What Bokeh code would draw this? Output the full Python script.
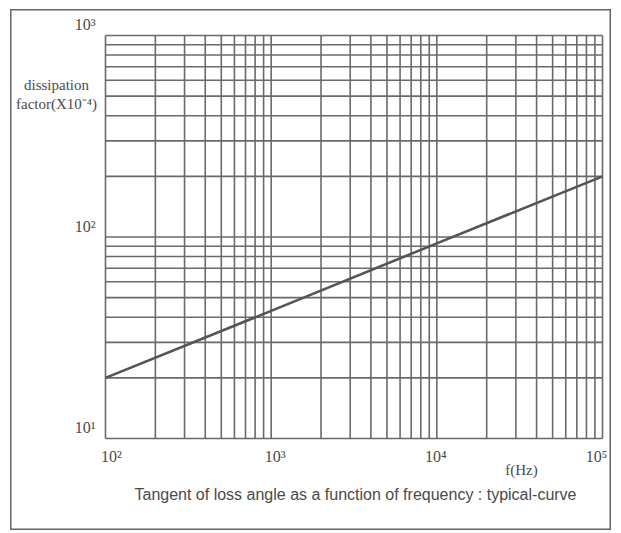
import math
from bokeh.plotting import figure
from bokeh.models import Label
from bokeh.embed import file_html
from bokeh.resources import INLINE

# data
freq = [1e2, 1e3, 1e4, 1e5]
dissipation = [20, 43, 93, 200]

x_major = [1e2, 1e3, 1e4, 1e5]
x_labels = ["10²", "10³", "10⁴", "10⁵"]
y_major = [1e1, 1e2, 1e3]
y_labels = ["10¹", "10²", "10³"]
x_minor = [m * d for d in [1e2, 1e3, 1e4] for m in range(2, 10)]
y_minor = [m * d for d in [1e1, 1e2] for m in range(2, 10)]

GRID = "#6a6a6a"
INK = "#4a4a4a"

# layout (pixels in the canvas): grid box position
W, H = 601, 521
GL, GR, GT, GB = 95, 592, 26, 429
xdec = (GR - GL) / (math.log10(x_major[-1]) - math.log10(x_major[0]))
ydec = (GB - GT) / (math.log10(y_major[-1]) - math.log10(y_major[0]))
x_range = (10 ** (math.log10(x_major[0]) - GL / xdec), 10 ** (math.log10(x_major[-1]) + (W - GR) / xdec))
y_range = (10 ** (math.log10(y_major[0]) - (H - GB) / ydec), 10 ** (math.log10(y_major[-1]) + GT / ydec))
x_label_shift = [6, 4, -1, -6]

p = figure(width=W, height=H, x_axis_type="log", y_axis_type="log",
           x_range=x_range, y_range=y_range,
           output_backend="svg", toolbar_location=None, min_border=0)
p.margin = (9, 0, 0, 10)
p.xaxis.visible = False
p.yaxis.visible = False
p.grid.visible = False
p.outline_line_color = "#666666"
p.outline_line_width = 2
p.background_fill_color = "white"

xg = x_major + x_minor
yg = y_major + y_minor
p.segment(x0=xg, y0=[y_major[0]] * len(xg), x1=xg, y1=[y_major[-1]] * len(xg),
          line_color=GRID, line_width=1.6)
p.segment(x0=[x_major[0]] * len(yg), y0=yg, x1=[x_major[-1]] * len(yg), y1=yg,
          line_color=GRID, line_width=1.6)

p.line(freq, dissipation, line_color="#555555", line_width=2.6)

for xv, t, dx in zip(x_major, x_labels, x_label_shift):
    p.add_layout(Label(x=xv, y=H - GB - 18, x_units="data", y_units="screen", x_offset=dx,
                       text=t, text_align="center", text_baseline="middle",
                       text_font="Liberation Serif", text_font_size="16px",
                       text_color=INK))
for yv, t in zip(y_major, y_labels):
    p.add_layout(Label(x=GL - 10, y=yv, x_units="screen", y_units="data", y_offset=11, text=t,
                       text_align="right", text_baseline="middle",
                       text_font="Liberation Serif", text_font_size="16px",
                       text_color=INK))

def screen_label(x, y, text, font, size, align="center"):
    p.add_layout(Label(x=x, y=y, x_units="screen", y_units="screen", text=text,
                       text_font=font, text_font_size=size, text_color=INK,
                       text_align=align, text_baseline="middle"))

screen_label(46, 446, "dissipation", "Liberation Serif", "15px")
screen_label(46, 427, "factor(X10⁻⁴)", "Liberation Serif", "15px")
screen_label(511, 61, "f(Hz)", "Liberation Serif", "15px")
screen_label(345, 36, "Tangent of loss angle as a function of frequency : typical-curve",
             "Liberation Sans", "16px")

open("out.html", "w").write(file_html(p, INLINE))
